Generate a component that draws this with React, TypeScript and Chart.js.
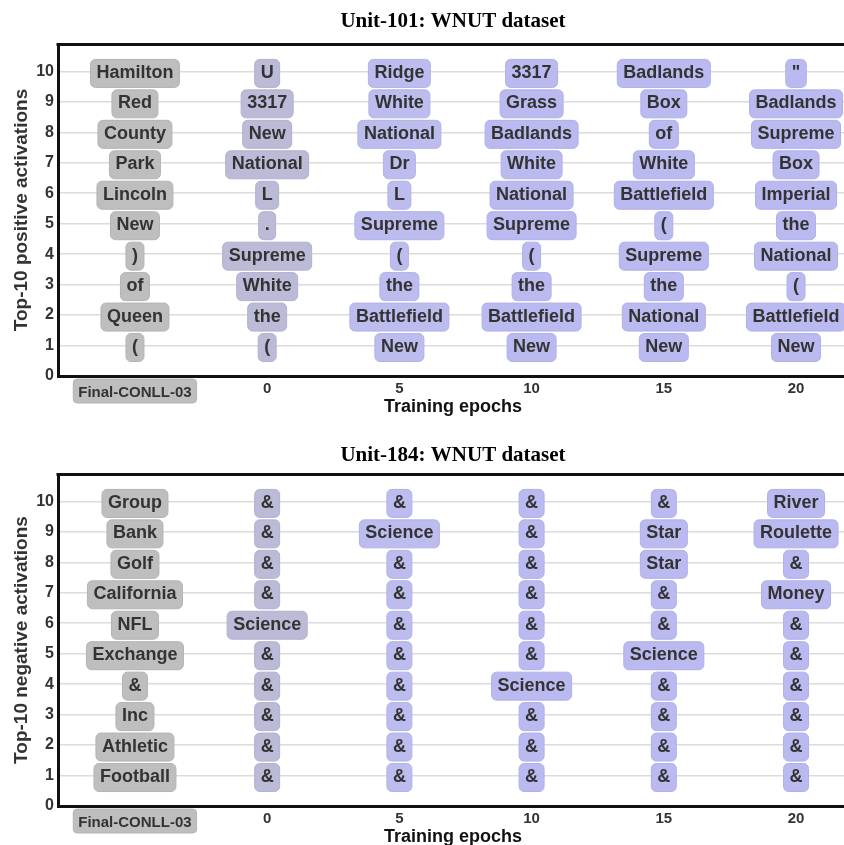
import React, { useEffect, useRef } from "react";
import { Chart, registerables } from "chart.js";

Chart.register(...registerables);

// ---------- data ----------
const xLabels = ["Final-CONLL-03", "0", "5", "10", "15", "20"];
const ranks = [10, 9, 8, 7, 6, 5, 4, 3, 2, 1];
const yTicks = [0, 1, 2, 3, 4, 5, 6, 7, 8, 9, 10];

// Unit-101 positive activations (rank 10 -> 1)
const posFinal = ["Hamilton", "Red", "County", "Park", "Lincoln", "New", ")", "of", "Queen", "("];
const posEp0 = ["U", "3317", "New", "National", "L", ".", "Supreme", "White", "the", "("];
const posEp5 = ["Ridge", "White", "National", "Dr", "L", "Supreme", "(", "the", "Battlefield", "New"];
const posEp10 = ["3317", "Grass", "Badlands", "White", "National", "Supreme", "(", "the", "Battlefield", "New"];
const posEp15 = ["Badlands", "Box", "of", "White", "Battlefield", "(", "Supreme", "the", "National", "New"];
const posEp20 = ["\"", "Badlands", "Supreme", "Box", "Imperial", "the", "National", "(", "Battlefield", "New"];

// Unit-184 negative activations (rank 10 -> 1)
const negFinal = ["Group", "Bank", "Golf", "California", "NFL", "Exchange", "&", "Inc", "Athletic", "Football"];
const negEp0 = ["&", "&", "&", "&", "Science", "&", "&", "&", "&", "&"];
const negEp5 = ["&", "Science", "&", "&", "&", "&", "&", "&", "&", "&"];
const negEp10 = ["&", "&", "&", "&", "&", "&", "Science", "&", "&", "&"];
const negEp15 = ["&", "Star", "Star", "&", "&", "Science", "&", "&", "&", "&"];
const negEp20 = ["River", "Roulette", "&", "Money", "&", "&", "&", "&", "&", "&"];

const columnColors = ["#bebebe", "#bbbbd8", "#bcbcef", "#babaf0", "#babaf1", "#babaf1"];
const columnBorders = ["#b4b4b4", "#b2b2d0", "#b2b2e8", "#b0b0e9", "#b0b0e9", "#b0b0e9"];

// ---------- styling ----------
const SANS = '"Liberation Sans", Arial, Helvetica, sans-serif';
const SERIF = '"Liberation Serif", "Times New Roman", Times, serif';
const TEXT = "#333333";

const wordBoxes = {
  id: "wordBoxes",
  beforeDraw(chart: any) {
    // grey box behind the "Final-CONLL-03" tick label
    const ctx = chart.ctx;
    const xs = chart.scales.x;
    ctx.save();
    ctx.font = `bold 15px ${SANS}`;
    const w = ctx.measureText(xLabels[0]).width + 10;
    const cx = xs.getPixelForValue(0);
    const top = xs.top + 3;
    ctx.beginPath();
    ctx.roundRect(cx - w / 2, top, w, 24, 4);
    ctx.fillStyle = columnColors[0];
    ctx.fill();
    ctx.strokeStyle = columnBorders[0];
    ctx.lineWidth = 1;
    ctx.stroke();
    ctx.restore();
  },
  afterDatasetsDraw(chart: any) {
    const ctx = chart.ctx;
    ctx.save();
    ctx.font = `bold 18px ${SANS}`;
    ctx.textAlign = "center";
    ctx.textBaseline = "alphabetic";
    chart.data.datasets.forEach((ds: any, di: number) => {
      const meta = chart.getDatasetMeta(di);
      meta.data.forEach((pt: any, j: number) => {
        const word = ds.words[j];
        const w = Math.max(ctx.measureText(word).width + 12, 16);
        ctx.beginPath();
        ctx.roundRect(pt.x - w / 2, pt.y - 12, w, 28, 5);
        ctx.fillStyle = ds.boxColor;
        ctx.fill();
        ctx.strokeStyle = ds.boxBorder;
        ctx.lineWidth = 1;
        ctx.stroke();
        ctx.fillStyle = TEXT;
        ctx.fillText(word, pt.x, pt.y + 6.5);
      });
    });
    ctx.restore();
  },
  afterDraw(chart: any) {
    const ctx = chart.ctx;
    const a = chart.chartArea;
    ctx.save();
    ctx.strokeStyle = "#111111";
    ctx.lineWidth = 3;
    ctx.beginPath();
    ctx.moveTo(a.left - 1.5, Math.round(a.top) + 0.5);
    ctx.lineTo(a.right + 2, Math.round(a.top) + 0.5);
    ctx.stroke();
    ctx.restore();
  },
};

function buildConfig(columns: string[][], title: string, yTitle: string, tPad: { top: number; bottom: number }) {
  const datasets = columns.map((words, ci) => ({
    label: xLabels[ci],
    data: ranks.map((r) => ({ x: ci, y: r })),
    words,
    boxColor: columnColors[ci],
    boxBorder: columnBorders[ci],
    pointRadius: 0,
    pointHoverRadius: 0,
    showLine: false,
  }));
  return {
    type: "scatter" as const,
    data: { datasets },
    plugins: [wordBoxes],
    options: {
      responsive: false,
      animation: false,
      devicePixelRatio: 1,
      layout: { padding: { left: 0, right: 0, top: 0, bottom: 0 } },
      plugins: {
        legend: { display: false },
        tooltip: { enabled: false },
        title: {
          display: true,
          text: title,
          fullSize: false,
          color: "#000000",
          font: { family: SERIF, size: 21, weight: "bold", lineHeight: 1.2 },
          padding: tPad,
        },
      },
      scales: {
        x: {
          type: "linear",
          min: -0.582,
          max: 5.393,
          afterFit: (s: any) => {
            s.height = 54;
          },
          afterBuildTicks: (s: any) => {
            s.ticks = xLabels.map((_, i) => ({ value: i }));
          },
          grid: { display: false, drawTicks: false },
          border: { display: true, color: "#111111", width: 3 },
          ticks: {
            autoSkip: false,
            maxRotation: 0,
            padding: 4,
            color: TEXT,
            font: (c: any) => ({
              family: SANS,
              size: 15,
              weight: "bold",
              lineHeight: c && c.index === 0 ? 25 / 15 : 1.2,
            }),
            callback: (_v: any, i: number) => xLabels[i],
          },
          title: {
            display: true,
            text: "Training epochs",
            color: "#111111",
            font: { family: SANS, size: 18, weight: "bold", lineHeight: 1.2 },
            padding: { top: 0, bottom: 12 },
          },
        },
        y: {
          type: "linear",
          min: 0,
          max: 10.9,
          afterFit: (s: any) => {
            s.width = 58;
          },
          afterBuildTicks: (s: any) => {
            s.ticks = yTicks.map((v) => ({ value: v }));
          },
          grid: { display: true, drawTicks: false, color: "#dcdcdc", lineWidth: 1.5 },
          border: { display: true, color: "#111111", width: 3 },
          ticks: {
            padding: 4,
            color: TEXT,
            font: { family: SANS, size: 16, weight: "bold", lineHeight: 1.2 },
            callback: (v: any) => String(v),
          },
          title: {
            display: true,
            text: yTitle,
            color: TEXT,
            font: { family: SANS, size: 19, weight: "bold", lineHeight: 1.2 },
            padding: { top: 10, bottom: 0 },
          },
        },
      },
    },
  };
}

function WordChart(props: { columns: string[][]; title: string; yTitle: string; tPad: { top: number; bottom: number } }) {
  const ref = useRef<HTMLCanvasElement>(null);
  useEffect(() => {
    if (!ref.current) return;
    const chart = new Chart(ref.current, buildConfig(props.columns, props.title, props.yTitle, props.tPad) as any);
    return () => chart.destroy();
  }, []);
  return <canvas ref={ref} width={848} height={430} style={{ display: "block", width: 848, height: 430 }} />;
}

export default function App() {
  return (
    <div
      style={{
        position: "fixed",
        left: 0,
        top: 0,
        width: 844,
        height: 845,
        overflow: "hidden",
        background: "#ffffff",
      }}
    >
      <div style={{ position: "absolute", left: 0, top: 0 }}>
        <WordChart
          columns={[posFinal, posEp0, posEp5, posEp10, posEp15, posEp20]}
          title="Unit-101: WNUT dataset"
          yTitle="Top-10 positive activations"
          tPad={{ top: 9.4, bottom: 9.4 }}
        />
      </div>
      <div style={{ position: "absolute", left: 0, top: 430 }}>
        <WordChart
          columns={[negFinal, negEp0, negEp5, negEp10, negEp15, negEp20]}
          title="Unit-184: WNUT dataset"
          yTitle="Top-10 negative activations"
          tPad={{ top: 13.4, bottom: 5.4 }}
        />
      </div>
    </div>
  );
}
